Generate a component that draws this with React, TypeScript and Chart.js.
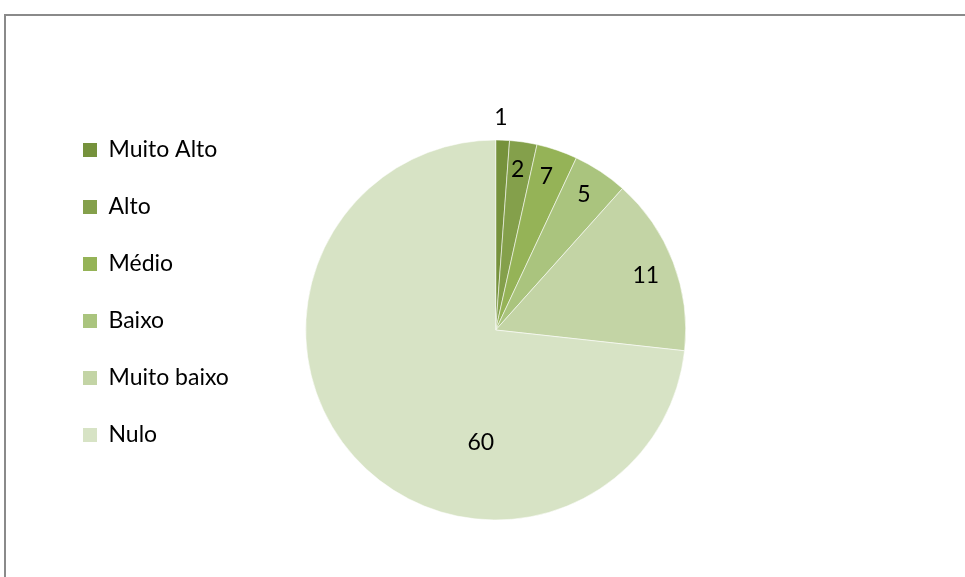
import { useEffect, useRef } from "react";
import { Chart, registerables } from "chart.js";

Chart.register(...registerables);

// Categories (legend order)
const categories = ["Muito Alto", "Alto", "Médio", "Baixo", "Muito baixo", "Nulo"];
// Slice sizes
const sliceValues = [1, 2, 3, 4, 13, 63];
// Numbers printed on the slices in the picture
const labelTexts = ["1", "2", "7", "5", "11", "60"];
// Slice colours
const sliceColors = ["#76923C", "#84A04B", "#95B357", "#AAC47E", "#C3D4A5", "#D7E3C5"];

// Label placement inside each slice (fraction of the slice angle, fraction of the radius)
const labelAngleFrac = [0.34, 0.43, 0.46, 0.48, 0.52, 0.346];
const labelRadiusFrac = [1.12, 0.85, 0.85, 0.85, 0.84, 0.6];

const FONT_FAMILY = "Lato, 'Open Sans', sans-serif";
const FONT_SIZE = 23;

const sliceLabelsPlugin = {
  id: "sliceLabels",
  afterDatasetsDraw(chart: any) {
    const meta = chart.getDatasetMeta(0);
    const ctx = chart.ctx;
    ctx.save();
    ctx.font = `${FONT_SIZE}px ${FONT_FAMILY}`;
    ctx.fillStyle = "#000000";
    ctx.textAlign = "center";
    ctx.textBaseline = "middle";
    meta.data.forEach((arc: any, i: number) => {
      const { x, y, startAngle, endAngle, outerRadius } = arc.getProps(
        ["x", "y", "startAngle", "endAngle", "outerRadius"],
        true
      );
      const a = startAngle + (endAngle - startAngle) * labelAngleFrac[i];
      const r = outerRadius * labelRadiusFrac[i];
      ctx.fillText(labelTexts[i], x + Math.cos(a) * r, y + Math.sin(a) * r);
    });
    ctx.restore();
  },
};

export default function App() {
  const canvasRef = useRef<HTMLCanvasElement | null>(null);

  useEffect(() => {
    if (!canvasRef.current) return;
    const chart = new Chart(canvasRef.current, {
      type: "pie",
      data: {
        labels: categories,
        datasets: [
          {
            data: sliceValues,
            backgroundColor: sliceColors,
            borderColor: "rgba(255,255,255,0.55)",
            borderWidth: 1,
            radius: 190,
          } as any,
        ],
      },
      options: {
        responsive: false,
        animation: false,
        layout: { padding: { left: 49, top: 104.5, bottom: 21.5, right: 212.5 } },
        plugins: {
          tooltip: { enabled: false },
          legend: {
            position: "left",
            align: "start",
            labels: {
              boxWidth: 14,
              boxHeight: 14,
              padding: 34,
              color: "#000000",
              font: { family: FONT_FAMILY, size: FONT_SIZE },
              generateLabels: (chart: any) => {
                const items = Chart.overrides.pie.plugins.legend.labels.generateLabels(chart);
                return items.map((it: any) => ({ ...it, lineWidth: 0, strokeStyle: "rgba(0,0,0,0)" }));
              },
            },
          },
        },
      },
      plugins: [sliceLabelsPlugin],
    });
    return () => chart.destroy();
  }, []);

  return (
    <div style={{ position: "absolute", left: 0, top: 0, width: 965, height: 577, overflow: "hidden", background: "#fff" }}>
      <div
        style={{
          position: "absolute",
          left: 4,
          top: 14,
          width: 1000,
          height: 700,
          border: "2px solid #8a8a8a",
          boxSizing: "border-box",
        }}
      />
      <canvas
        ref={canvasRef}
        width={965}
        height={577}
        style={{ position: "absolute", left: 0, top: 0, display: "block" }}
      />
    </div>
  );
}
